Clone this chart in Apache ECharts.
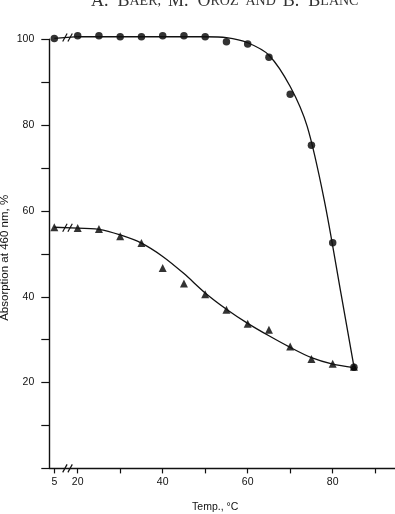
<!DOCTYPE html>
<html>
<head>
<meta charset="utf-8">
<script src="https://cdn.jsdelivr.net/npm/echarts@6/dist/echarts.min.js"></script>
<style>html,body{margin:0;padding:0;background:#fff;}#c{width:395px;height:514px;}</style>
</head>
<body>
<div id="c"></div>
<script>
// ---- data ----
const circleX = [5, 20, 25, 30, 35, 40, 45, 50, 55, 60, 65, 70, 75, 80, 85];
const circleY = [100.2, 100.8, 100.8, 100.6, 100.6, 100.8, 100.8, 100.6, 99.4, 98.9, 95.8, 87.2, 75.3, 52.6, 23.6];
const triX = [5, 20, 25, 30, 35, 40, 45, 50, 55, 60, 65, 70, 75, 80, 85];
const triY = [56.2, 56.0, 55.8, 54.1, 52.5, 46.7, 43.1, 40.6, 37.0, 33.7, 32.3, 28.4, 25.5, 24.4, 23.7];
// fitted curves drawn by hand in the original
const circleFitX = [20, 35, 50, 55, 60, 65, 70, 74, 78, 82, 85];
const circleFitY = [100.6, 100.6, 100.6, 100.4, 99.2, 96.3, 89.0, 79.7, 62.6, 40.5, 23.7];
const triFitX = [20, 25, 30, 35, 40, 45, 50, 55, 60, 65, 70, 75, 80, 85];
const triFitY = [56.0, 55.7, 54.4, 52.5, 49.4, 45.4, 40.9, 37.1, 33.8, 30.9, 28.2, 25.8, 24.3, 23.5];
const xTickValues = [5, 20, 30, 40, 50, 60, 70, 80, 90];
const xLabelValues = [5, 20, 40, 60, 80];
const yLabelValues = [20, 40, 60, 80, 100];

// broken axis: the value 5 is drawn just right of the axis start
const BREAK_POS = 14.5;   // where 5 sits on the broken axis
const BREAK_MARK = 17.6;  // where the // marks sit
const X_MIN = 13.32, X_MAX = 94.66;
function breakMap(x) { return x < 20 ? BREAK_POS : x; }
function unbreak(v) { return Math.abs(v - BREAK_POS) < 0.01 ? 5 : v; }

const pair = (xs, ys) => xs.map((x, i) => [breakMap(x), ys[i]]);
const FONT = '"Liberation Sans", Arial, sans-serif';
const INK = '#111';

const chart = echarts.init(document.getElementById('c'), null, {renderer: 'canvas'});
const option = {
  backgroundColor: '#fff',
  animation: false,
  grid: {left: 49.3, right: 0, top: 39.3, bottom: 45.6, outerBoundsMode: 'none', containLabel: false},
  graphic: [{
    type: 'text', left: 91, y: -8,
    style: {
      text: '{a|A.  B}{b|AER,  }{a|M.  O}{b|ROZ  AND  }{a|B.  B}{b|LANC}',
      rich: {
        a: {fontFamily: '"Liberation Serif", serif', fontSize: 18, fill: '#333'},
        b: {fontFamily: '"Liberation Serif", serif', fontSize: 14, fill: '#333'}
      }
    }
  }],
  xAxis: {
    type: 'value', min: X_MIN, max: X_MAX,
    splitLine: {show: false},
    axisLine: {show: true, onZero: false, lineStyle: {color: INK, width: 1.4}},
    axisTick: {show: true, length: 5, lineStyle: {color: INK, width: 1.2},
      customValues: xTickValues.map(breakMap)},
    axisLabel: {color: INK, fontFamily: FONT, fontSize: 10.5, margin: 8,
      customValues: xLabelValues.map(breakMap),
      formatter: v => String(unbreak(v))},
    name: 'Temp., °C', nameLocation: 'middle', nameGap: 33, nameMoveOverlap: false,
    nameTextStyle: {color: INK, fontFamily: FONT, fontSize: 10.5, padding: [0, 14, 0, 0]}
  },
  yAxis: {
    type: 'value', min: 0, max: 100, interval: 10,
    splitLine: {show: false},
    axisLine: {show: true, lineStyle: {color: INK, width: 1.4}},
    axisTick: {show: true, length: 8, lineStyle: {color: INK, width: 1.2}},
    axisLabel: {color: INK, fontFamily: FONT, fontSize: 10.5, margin: 15,
      formatter: v => yLabelValues.includes(v) ? String(v) : ''},
    name: 'Absorption at 460 nm, %', nameLocation: 'middle', nameGap: 38, nameMoveOverlap: false,
    nameTextStyle: {color: INK, fontFamily: FONT, fontSize: 11.5, padding: [0, 8, 0, 0]}
  },
  series: [
    {type: 'line', data: [[breakMap(circleX[0]), circleY[0]], [circleFitX[0], circleFitY[0]]],
      symbol: 'none', clip: false, lineStyle: {color: INK, width: 1.3}},
    {type: 'line', data: [[breakMap(triX[0]), triY[0]], [triFitX[0], triFitY[0]]],
      symbol: 'none', clip: false, lineStyle: {color: INK, width: 1.3}},
    {type: 'line', data: pair(circleFitX, circleFitY), smooth: 0.3,
      symbol: 'none', clip: false, lineStyle: {color: INK, width: 1.3}},
    {type: 'line', data: pair(triFitX, triFitY), smooth: 0.3,
      symbol: 'none', clip: false, lineStyle: {color: INK, width: 1.3}},
    {type: 'scatter', data: pair(circleX, circleY), symbol: 'circle', symbolSize: 7.5,
      clip: false, itemStyle: {color: '#000'}},
    {type: 'scatter', data: pair(triX, triY), symbol: 'triangle', symbolSize: 8,
      clip: false, itemStyle: {color: '#000'}},
    {type: 'custom', clip: false, silent: true,
      data: [[BREAK_MARK, 0], [BREAK_MARK, (circleY[0] + circleFitY[0]) / 2], [BREAK_MARK, (triY[0] + triFitY[0]) / 2]],
      renderItem: (params, api) => {
        const p = api.coord([api.value(0), api.value(1)]);
        const h = 4, w = 2.2, d = 2.6;
        return {type: 'group', children: [-d, d].map(o => ({
          type: 'line',
          shape: {x1: p[0] + o - w, y1: p[1] + h, x2: p[0] + o + w, y2: p[1] - h},
          style: {stroke: INK, lineWidth: 1.2}
        }))};
      }}
  ]
};
chart.setOption(option);
</script>
</body>
</html>
